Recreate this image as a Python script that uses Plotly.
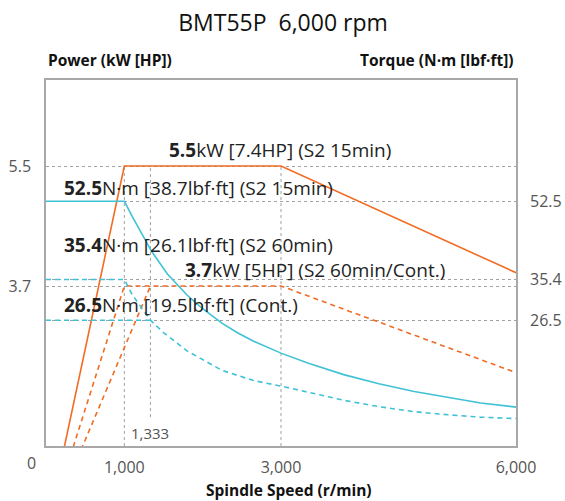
import plotly.graph_objects as go

# ---------------- data ----------------
rpm_power_s2_15 = [0, 1000, 3000, 6000]
kw_s2_15 = [0, 5.5, 5.5, 3.9]
rpm_power_s2_60 = [0, 1000, 3000, 6000]
kw_s2_60 = [0, 3.7, 3.7, 2.4]
rpm_power_cont = [0, 1333]
kw_cont = [0, 3.7]

rpm_torque_s2_15 = [0, 1000, 1100, 1200, 1350, 1550, 1800, 2000, 2250, 2450, 2650, 3000,
                    3350, 3800, 4250, 4700, 5150, 5550, 6000]
nm_s2_15 = [52.5, 52.5, 49.2, 46.0, 41.5, 36.6, 32.0, 29.0, 25.8, 23.7, 21.9, 19.3,
            17.1, 14.6, 12.6, 10.9, 9.5, 8.4, 7.5]
rpm_torque_s2_60 = [0, 1000, 1100, 1220, 1333, 1500, 1800, 2250, 2650, 3000,
                    3350, 3800, 4250, 4700, 5150, 5550, 6000]
nm_s2_60 = [35.4, 35.4, 32.1, 29.1, 26.5, 23.8, 19.8, 15.5, 13.3, 12.1,
            10.8, 9.0, 7.6, 6.5, 5.8, 5.3, 5.0]
rpm_torque_cont = [0, 1333]
nm_cont = [26.5, 26.5]

x_tickvals = [1000, 3000, 6000]
x_ticktext = ["1,000", "3,000", "6,000"]
power_ticks = [3.7, 5.5]
torque_ticks = [26.5, 35.4, 52.5]
speed_marks = [1000, 1333, 3000]

title_text = "BMT55P\u00a0\u00a06,000 rpm"
label_s2_15_power = "<b>5.5</b>kW [7.4HP] (S2 15min)"
label_s2_15_torque = "<b>52.5</b>N\u00b7m [38.7lbf\u00b7ft] (S2 15min)"
label_s2_60_torque = "<b>35.4</b>N\u00b7m [26.1lbf\u00b7ft] (S2 60min)"
label_s2_60_power = "<b>3.7</b>kW [5HP] (S2 60min/Cont.)"
label_cont_torque = "<b>26.5</b>N\u00b7m [19.5lbf\u00b7ft] (Cont.)"

# ---------------- style / layout ----------------
W, H = 565, 501
L, R, T, B = 46, 516, 80, 446
ORANGE = "#F26B23"
CYAN = "#3FC2D6"
GRID = "#a0a0a0"
AXIS = "#a8a8a8"
FONT = "Open Sans"
P_MIN, P_MAX = 1.3, 6.79
T_MIN, T_MAX = -1.0, 79.0
X_MIN, X_MAX = 0, 6000


def px_x(p):
    return (p - L) / (R - L)


def px_y(p):
    return (B - p) / (B - T)


fig = go.Figure()

dash = "5px,4px"
fig.add_trace(go.Scatter(x=rpm_power_s2_15, y=kw_s2_15, mode="lines",
                         line=dict(color=ORANGE, width=1.6), yaxis="y"))
fig.add_trace(go.Scatter(x=rpm_power_s2_60, y=kw_s2_60, mode="lines",
                         line=dict(color=ORANGE, width=1.6, dash=dash), yaxis="y"))
fig.add_trace(go.Scatter(x=rpm_power_cont, y=kw_cont, mode="lines",
                         line=dict(color=ORANGE, width=1.6, dash=dash), yaxis="y"))
fig.add_trace(go.Scatter(x=rpm_torque_s2_15, y=nm_s2_15, mode="lines",
                         line=dict(color=CYAN, width=1.6), yaxis="y2"))
fig.add_trace(go.Scatter(x=rpm_torque_s2_60, y=nm_s2_60, mode="lines",
                         line=dict(color=CYAN, width=1.6, dash=dash), yaxis="y2"))
fig.add_trace(go.Scatter(x=rpm_torque_cont, y=nm_cont, mode="lines",
                         line=dict(color=CYAN, width=1.6, dash=dash), yaxis="y2"))

shapes = []
for xv in speed_marks:
    y0 = P_MIN if xv != 1333 else P_MIN + px_y(417) * (P_MAX - P_MIN)
    shapes.append(dict(type="line", xref="x", yref="y", x0=xv, x1=xv,
                       y0=y0, y1=max(power_ticks),
                       line=dict(color=GRID, width=1, dash="dot"), layer="below"))

ann = []
ann.append(dict(text="<b>Power (kW [HP])</b>", xref="paper", yref="paper",
                x=px_x(46), y=px_y(60), xanchor="left", yanchor="middle",
                showarrow=False, font=dict(family=FONT, size=15.5, color="#111")))
ann.append(dict(text="<b>Torque (N\u00b7m [lbf\u00b7ft])</b>", xref="paper", yref="paper",
                x=px_x(516), y=px_y(60), xanchor="right", yanchor="middle",
                showarrow=False, font=dict(family=FONT, size=15.5, color="#111")))
ann.append(dict(text="<b>Spindle Speed (r/min)</b>", xref="paper", yref="paper",
                x=px_x(289), y=px_y(490), xanchor="center", yanchor="middle",
                showarrow=False, font=dict(family=FONT, size=15.5, color="#111")))
ann.append(dict(text="0", xref="paper", yref="paper", x=px_x(31), y=px_y(463),
                xanchor="center", yanchor="middle", showarrow=False,
                font=dict(family=FONT, size=16, color="#555")))
ann.append(dict(text="1,333", xref="x", yref="paper", x=1333, y=px_y(433),
                xanchor="center", yanchor="middle", showarrow=False,
                font=dict(family=FONT, size=15, color="#555")))

series_labels = [
    (label_s2_15_power, 167, 150),
    (label_s2_15_torque, 62, 188),
    (label_s2_60_torque, 62, 245),
    (label_s2_60_power, 183, 270),
    (label_cont_torque, 62, 305),
]
for txt, lx, cy in series_labels:
    ann.append(dict(text=txt, xref="paper", yref="paper", x=px_x(lx), y=px_y(cy),
                    xanchor="left", yanchor="middle", showarrow=False,
                    font=dict(family=FONT, size=19, color="#222")))

fig.update_layout(
    width=W, height=H,
    margin=dict(l=L, r=W - R, t=T, b=H - B, autoexpand=False),
    paper_bgcolor="white", plot_bgcolor="white",
    showlegend=False,
    title=dict(text=title_text, x=283 / W, xref="container",
               xanchor="center", y=1 - 23 / H, yref="container", yanchor="middle",
               font=dict(family=FONT, size=23, color="#111")),
    xaxis=dict(range=[X_MIN, X_MAX], tickvals=x_tickvals, ticktext=x_ticktext,
               showgrid=False, zeroline=False, showline=True, linecolor=AXIS,
               linewidth=1.5, mirror=True, ticks="", ticklabelstandoff=6,
               automargin=False,
               tickfont=dict(family=FONT, size=16, color="#555")),
    yaxis=dict(range=[P_MIN, P_MAX], tickvals=power_ticks,
               ticktext=[f"{v:g}" for v in power_ticks],
               showgrid=True, gridcolor=GRID, griddash="dot", gridwidth=1,
               zeroline=False, showline=True, linecolor=AXIS, linewidth=1.5,
               mirror=True, ticks="", ticklabelstandoff=10, automargin=False,
               tickfont=dict(family=FONT, size=16, color="#555")),
    yaxis2=dict(range=[T_MIN, T_MAX], tickvals=torque_ticks,
                ticktext=[f"{v:g}" for v in torque_ticks],
                overlaying="y", side="right",
                showgrid=True, gridcolor=GRID, griddash="dot", gridwidth=1,
                zeroline=False, showline=False, ticks="", ticklabelstandoff=13,
                automargin=False,
                tickfont=dict(family=FONT, size=16, color="#555")),
    shapes=shapes,
    annotations=ann,
)

fig.write_html(
    "out.html",
    config={"displayModeBar": False},
    post_script="document.body.style.margin='0px';document.body.style.overflow='hidden';",
)
